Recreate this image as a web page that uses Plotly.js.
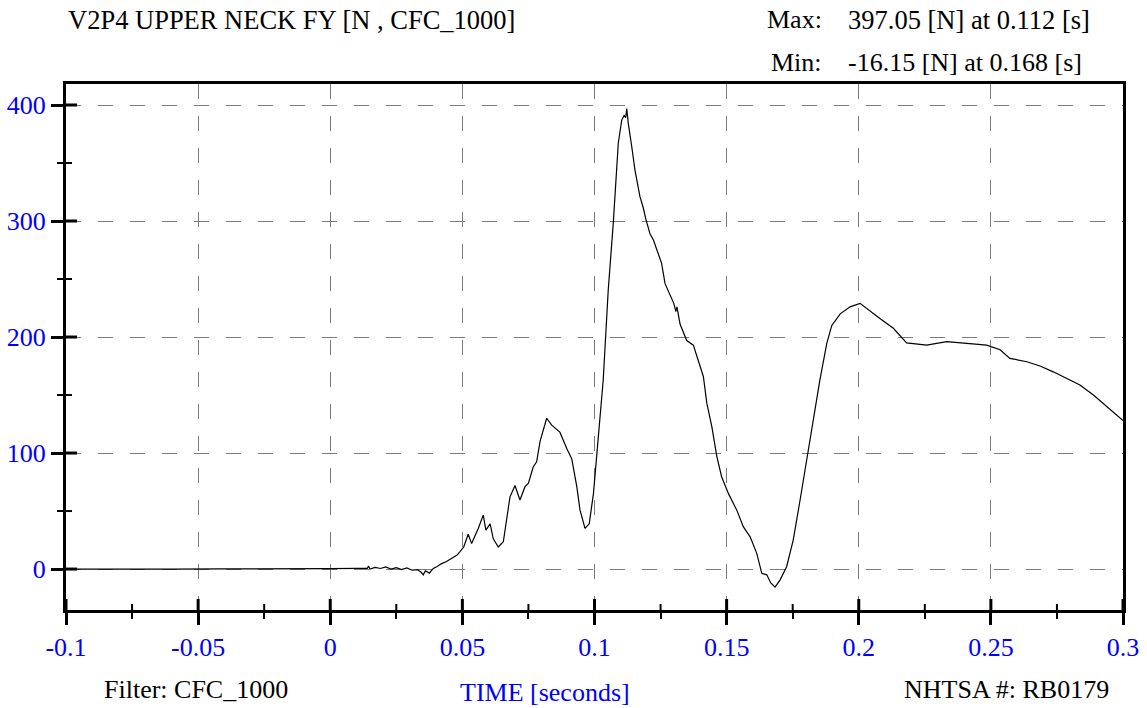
<!DOCTYPE html>
<html>
<head>
<meta charset="utf-8">
<script src="https://cdn.plot.ly/plotly-3.0.1.min.js"></script>
<style>html,body{margin:0;padding:0;background:#fff;}#chart{width:1147px;height:708px;}</style>
</head>
<body>
<div id="chart"></div>
<script>
// Time [s]
const timeS = [-0.1, -0.08, -0.06, -0.04, -0.02, 0, 0.01, 0.014, 0.0145, 0.015, 0.017, 0.019, 0.021, 0.023, 0.025, 0.027, 0.029, 0.031, 0.033, 0.0345, 0.0352, 0.036, 0.0375, 0.039, 0.0403, 0.042, 0.044, 0.046, 0.048, 0.0491, 0.0505, 0.0522, 0.0535, 0.056, 0.0579, 0.0589, 0.0605, 0.0617, 0.0636, 0.0655, 0.0668, 0.068, 0.0699, 0.0718, 0.0737, 0.075, 0.0768, 0.0781, 0.0794, 0.0819, 0.0838, 0.0869, 0.0895, 0.0914, 0.0933, 0.0945, 0.0964, 0.098, 0.0996, 0.1014, 0.1033, 0.1052, 0.1071, 0.109, 0.1103, 0.1112, 0.1118, 0.1122, 0.1128, 0.1141, 0.1153, 0.1172, 0.1185, 0.1195, 0.121, 0.1223, 0.1242, 0.1254, 0.1267, 0.1285, 0.13, 0.1308, 0.1312, 0.1324, 0.1349, 0.1374, 0.1393, 0.1412, 0.1425, 0.1444, 0.1463, 0.1481, 0.1507, 0.1538, 0.1563, 0.1589, 0.1614, 0.1633, 0.1652, 0.1667, 0.1683, 0.1702, 0.1727, 0.1752, 0.1778, 0.1803, 0.1828, 0.1853, 0.1879, 0.1898, 0.193, 0.1967, 0.2005, 0.2043, 0.208, 0.2131, 0.2181, 0.2257, 0.2333, 0.2409, 0.2484, 0.2535, 0.2572, 0.2636, 0.2686, 0.2736, 0.2787, 0.2837, 0.2888, 0.2938, 0.3];
// Upper neck Fy [N]
const forceN = [0, 0.3, 0, 0.2, 0, 0.3, 0.5, 0.5, 2.5, 0, 1.5, 0.5, 1.8, 0, 1.2, -0.5, 1, -1, -0.5, -3, -5, -1.5, -3.5, 0.5, 2, 4.5, 6.5, 9.5, 12, 15, 19, 30, 22, 35, 46.5, 33.6, 39, 26, 19, 23.5, 42, 62, 72, 59.5, 71, 74, 88, 92.5, 110, 130, 124, 118, 104, 95, 71, 51, 35, 39, 65, 114, 163, 240.5, 298, 367, 387, 391, 389, 397, 384, 364, 344, 321, 311, 301, 289, 283.6, 271, 263.5, 246, 236, 229, 222, 226, 211, 197, 193, 180, 166, 143, 122.7, 97, 79.6, 65, 51, 36.5, 27.8, 13.5, -3.7, -5, -12, -15.5, -9.5, 2, 25, 59.5, 94, 128, 163, 194.6, 210, 220, 226, 229, 222, 216, 207.5, 195, 193, 196, 194.6, 193, 189, 181.6, 178.7, 175, 170, 164, 158.6, 150, 140, 128];

const xTickVals = [-0.1, -0.05, 0, 0.05, 0.1, 0.15, 0.2, 0.25, 0.3];
const xTickText = ["-0.1", "-0.05", "0", "0.05", "0.1", "0.15", "0.2", "0.25", "0.3"];
const xMinorVals = [-0.075, -0.025, 0.025, 0.075, 0.125, 0.175, 0.225, 0.275];
const yTickVals = [0, 100, 200, 300, 400];
const yTickText = ["0", "100", "200", "300", "400"];
const yMinorVals = [-50, 50, 150, 250, 350];

const titleText = "V2P4 UPPER NECK FY [N , CFC_1000]";
const maxLabel = "Max:";
const maxText = "397.05 [N] at 0.112 [s]";
const minLabel = "Min:";
const minText = "-16.15 [N] at 0.168 [s]";
const filterText = "Filter: CFC_1000";
const xTitleText = "TIME [seconds]";
const idText = "NHTSA #: RB0179";

const FONT = "Liberation Serif, Times New Roman, serif";
const XR = [-0.1, 0.3];
const YR = [-35.3, 418.1];
const PLOT_W = 1057, PLOT_H = 526;

const traces = [
  {x: timeS, y: forceN, type: 'scatter', mode: 'lines', line: {color: '#000', width: 1.2}, hoverinfo: 'skip', showlegend: false}
];

// inner halves of the crossing ticks
const shapes = [];
xTickVals.forEach(v => shapes.push({type: 'line', xref: 'x', yref: 'paper', x0: v, x1: v, y0: 0, y1: 11 / PLOT_H, line: {color: '#000', width: 3}}));
xMinorVals.forEach(v => shapes.push({type: 'line', xref: 'x', yref: 'paper', x0: v, x1: v, y0: 0, y1: 6 / PLOT_H, line: {color: '#000', width: 2}}));
yTickVals.forEach(v => shapes.push({type: 'line', xref: 'paper', yref: 'y', x0: 0, x1: 11 / PLOT_W, y0: v, y1: v, line: {color: '#000', width: 3}}));
yMinorVals.filter(v => v > YR[0]).forEach(v => shapes.push({type: 'line', xref: 'paper', yref: 'y', x0: 0, x1: 6 / PLOT_W, y0: v, y1: v, line: {color: '#000', width: 2}}));

const gridStyle = {showgrid: true, gridcolor: '#7a7a7a', gridwidth: 1, griddash: '15px,17px'};

const layout = {
  width: 1147, height: 708,
  margin: {l: 66, r: 24, t: 84, b: 98},
  paper_bgcolor: '#fff', plot_bgcolor: '#fff',
  font: {family: FONT, size: 26, color: '#000'},
  showlegend: false,
  shapes: shapes,
  xaxis: Object.assign({
    range: XR, tickmode: 'array', tickvals: xTickVals, ticktext: xTickText,
    ticks: 'outside', ticklen: 12, tickwidth: 3, tickcolor: '#000',
    minor: {ticks: 'outside', ticklen: 6, tickwidth: 2, tickcolor: '#000', tickvals: xMinorVals, showgrid: false},
    tickfont: {family: FONT, size: 26, color: '#0000ff'},
    showline: true, linecolor: '#000', linewidth: 3, mirror: true, zeroline: false
  }, gridStyle),
  yaxis: Object.assign({
    range: YR, tickmode: 'array', tickvals: yTickVals, ticktext: yTickText,
    ticks: 'outside', ticklen: 12, tickwidth: 3, tickcolor: '#000',
    minor: {ticks: 'outside', ticklen: 6, tickwidth: 2, tickcolor: '#000', tickvals: yMinorVals, showgrid: false},
    tickfont: {family: FONT, size: 26, color: '#0000ff'},
    showline: true, linecolor: '#000', linewidth: 3, mirror: true, zeroline: false
  }, gridStyle),
  annotations: [
    {text: titleText, xref: 'paper', yref: 'paper', x: 0.0, y: 1.1217, xanchor: 'left', yanchor: 'middle', showarrow: false, font: {family: FONT, size: 26.5, color: '#000'}},
    {text: maxLabel, xref: 'paper', yref: 'paper', x: 0.7175, y: 1.1217, xanchor: 'right', yanchor: 'middle', showarrow: false, font: {family: FONT, size: 26, color: '#000'}},
    {text: maxText, xref: 'paper', yref: 'paper', x: 0.738, y: 1.1217, xanchor: 'left', yanchor: 'middle', showarrow: false, font: {family: FONT, size: 26.5, color: '#000'}},
    {text: minLabel, xref: 'paper', yref: 'paper', x: 0.7175, y: 1.0418, xanchor: 'right', yanchor: 'middle', showarrow: false, font: {family: FONT, size: 26, color: '#000'}},
    {text: minText, xref: 'paper', yref: 'paper', x: 0.738, y: 1.0418, xanchor: 'left', yanchor: 'middle', showarrow: false, font: {family: FONT, size: 26, color: '#000'}},
    {text: filterText, xref: 'paper', yref: 'paper', x: 0.034, y: -0.152, xanchor: 'left', yanchor: 'middle', showarrow: false, font: {family: FONT, size: 26, color: '#000'}},
    {text: xTitleText, xref: 'paper', yref: 'paper', x: 0.371, y: -0.1559, xanchor: 'left', yanchor: 'middle', showarrow: false, font: {family: FONT, size: 26, color: '#0000ff'}},
    {text: idText, xref: 'paper', yref: 'paper', x: 0.7905, y: -0.152, xanchor: 'left', yanchor: 'middle', showarrow: false, font: {family: FONT, size: 26, color: '#000'}}
  ]
};

Plotly.newPlot('chart', traces, layout, {staticPlot: true, displayModeBar: false});
</script>
</body>
</html>
